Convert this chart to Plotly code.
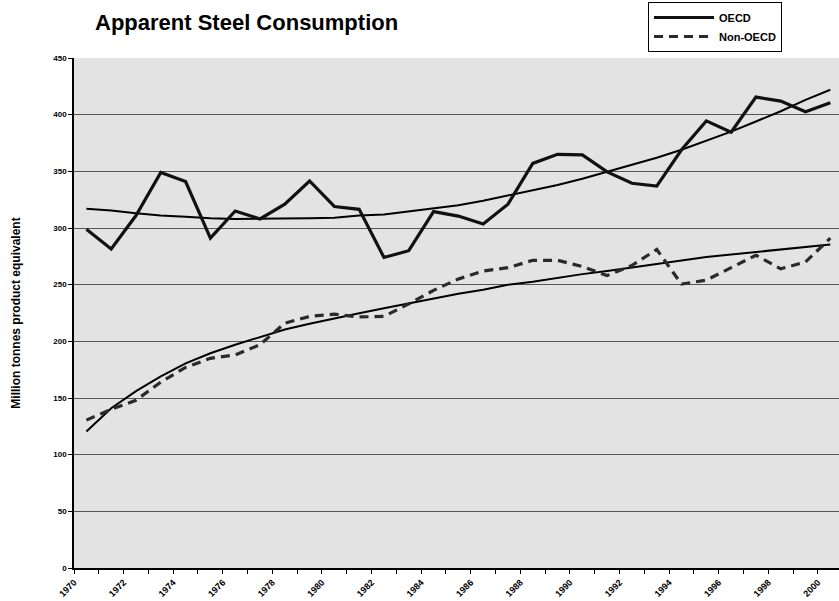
import plotly.graph_objects as go

years = list(range(1970, 2001))

oecd = [299, 281.5, 311, 349, 341, 291, 315, 308, 321, 341.5,
        319, 316.5, 274, 280, 314.5, 310.5, 303.5, 321, 357, 365,
        364.5, 349.5, 339.5, 337, 369, 394.5, 384.5, 415.5, 412, 402.5, 410.5]

oecd_trend = [317, 315.5, 313, 311, 310, 308.5, 308, 308, 308, 308.5,
              309, 311, 312, 314.5, 317, 320, 324, 328.5, 333, 338,
              343.5, 349.5, 355.5, 362, 369, 377, 385, 394, 403, 413, 422]

non_oecd = [130.5, 140, 148, 164, 177, 185, 188, 197, 216, 222,
            224, 221.5, 222, 233, 245, 255, 262, 265, 271.5, 271.5,
            266, 258, 267, 281, 250.5, 254, 265, 276, 264, 270, 291]

non_oecd_trend = [120.5, 141, 156, 169, 180.5, 189.5, 197, 204, 210.5, 215.5,
                  220.3, 224.7, 229.1, 233.4, 237.8, 242, 245.5, 249.9, 252.6, 256,
                  259.3, 262, 265, 268.5, 271.6, 274.5, 276.6, 278.8, 280.9, 283.2, 285.5]

tick_years = list(range(1970, 2001, 2))

# points sit between tick marks (category centres)
xpos = [y + 0.5 for y in years]

fig = go.Figure()
fig.add_trace(go.Scatter(x=xpos, y=oecd_trend, mode="lines",
                         line=dict(color="black", width=2), showlegend=False,
                         hoverinfo="skip"))
fig.add_trace(go.Scatter(x=xpos, y=non_oecd_trend, mode="lines",
                         line=dict(color="black", width=2), showlegend=False,
                         hoverinfo="skip"))
fig.add_trace(go.Scatter(x=xpos, y=oecd, mode="lines", name="OECD",
                         line=dict(color="#111111", width=3.2)))
fig.add_trace(go.Scatter(x=xpos, y=non_oecd, mode="lines", name="Non-OECD",
                         line=dict(color="#2a2a2a", width=3.2, dash="9px,6px")))

font_family = "Liberation Sans, Arial, sans-serif"

fig.update_layout(
    width=839, height=601,
    margin=dict(l=74, r=0, t=58, b=33, autoexpand=False),
    paper_bgcolor="white",
    plot_bgcolor="#e3e3e3",
    font=dict(family=font_family, color="black"),
    title=dict(text="<b>Apparent Steel Consumption</b>",
               font=dict(size=22, family=font_family, color="black"),
               x=95 / 839, xanchor="left", y=1 - 22 / 601, yanchor="middle",
               xref="container", yref="container", automargin=False),
    legend=dict(x=648 / 839, y=1 - 2 / 601, xref="container", yref="container",
                xanchor="left", yanchor="top",
                bgcolor="white", bordercolor="black", borderwidth=1,
                font=dict(size=11, family=font_family, color="black", weight="bold"),
                itemwidth=60),
    showlegend=True,
)

fig.update_xaxes(
    range=[1970, 2000.85], automargin=False,
    tickmode="array", tickvals=tick_years, ticktext=[str(y) for y in tick_years],
    tickangle=-45,
    tickfont=dict(size=9, family=font_family, color="black", weight="bold"),
    ticks="outside", ticklen=4, tickcolor="black",
    minor=dict(dtick=1, tick0=1970, ticks="outside", ticklen=4, tickcolor="black", showgrid=False),
    showline=True, linecolor="black", linewidth=1.5,
    showgrid=False, zeroline=False,
)

fig.update_yaxes(
    range=[0, 450], dtick=50, automargin=False,
    tickfont=dict(size=8, family=font_family, color="black", weight="bold"),
    ticks="outside", ticklen=4, tickcolor="black",
    showline=True, linecolor="black", linewidth=1.5,
    showgrid=True, gridcolor="#555555", gridwidth=1,
    zeroline=False,
    title=dict(text="<b>Million tonnes product equivalent</b>",
               font=dict(size=12, family=font_family, color="black"),
               standoff=30),
)

fig.write_html("out.html",
               config={"displayModeBar": False},
               post_script="document.body.style.margin='0';document.body.style.overflow='hidden';")
